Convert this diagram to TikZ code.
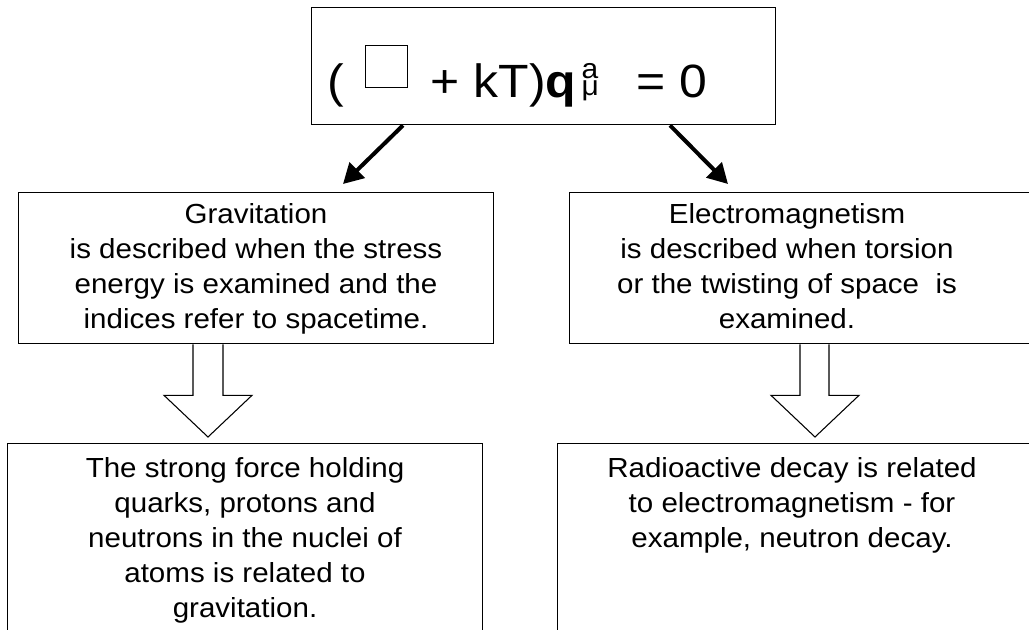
\documentclass[tikz,border=0pt]{standalone}
\usepackage{fontspec}
\setmainfont[FakeStretch=1.07]{Liberation Sans}
\usetikzlibrary{arrows.meta,calc}
\newcommand\bodyfont{\fontsize{20.7pt}{26.25pt}\selectfont}
\newcommand\eqfont{\fontsize{35pt}{40pt}\selectfont}
\newcommand\scrfont{\fontsize{21pt}{24pt}\selectfont}
\newcommand\firstline{\rule{0pt}{20pt}}
\newcommand\dalembert{\raisebox{7.5pt}{\fboxsep0pt\fboxrule0.75pt\fbox{\rule{0pt}{30.75pt}\hspace{30.75pt}}}}
\begin{document}
\begin{tikzpicture}[x=0.75pt,y=-0.75pt,
  box/.style={draw, line width=1pt, inner sep=0pt, anchor=north west},
  txt/.style={align=center, inner sep=0pt, anchor=north, font=\bodyfont},
  bigarrow/.style={line width=3pt, -{Triangle[length=15pt,width=16pt]}},
  hollow/.style={draw, line width=0.8pt, fill=white, line join=miter}]
\useasboundingbox (0,0) rectangle (1029,629);
\clip (0,0) rectangle (1029,629);
% boxes
\node[box, minimum width=348pt, minimum height=87.75pt] (top) at (311,7) {};
\node[box, minimum width=356.25pt, minimum height=113.25pt] (grav) at (18,192) {};
\node[box, minimum width=405pt, minimum height=113.25pt] (em) at (569,192) {};
\node[box, minimum width=356.25pt, minimum height=150pt] (strong) at (7,443) {};
\node[box, minimum width=405pt, minimum height=150pt] (decay) at (557,443) {};
% equation
\node[anchor=base west, inner sep=0pt] (eq) at (327,97) {\eqfont\rlap{(}\hspace*{28.5pt}\rlap{\dalembert}\hspace*{49.1pt}\rlap{+ kT)\textbf{q}}\hspace*{113.25pt}\rlap{\raisebox{13.8pt}{\scrfont a}}\rlap{\raisebox{1.5pt}{\scrfont μ}}\hspace*{41pt}= 0};
% texts
\node[txt] (gtext) at (256,196.3) {\firstline Gravitation\\is described when the stress\\energy is examined and the\\indices refer to spacetime.};
\node[txt] (etext) at (787,196.3) {\firstline Electromagnetism\\is described when torsion\\or the twisting of space~ is\\examined.};
\node[txt] (stext) at (245,450.3) {\firstline The strong force holding\\quarks, protons and\\neutrons in the nuclei of\\atoms is related to\\gravitation.};
\node[txt] (dtext) at (792,450.3) {\firstline Radioactive decay is related\\to electromagnetism - for\\example, neutron decay.};
% arrows
\draw[bigarrow] ($(top.south west)+(92,0)$) -- ($(grav.north west)+(325,-8)$);
\draw[bigarrow] ($(top.south west)+(359,0)$) -- ($(em.north west)+(159,-8)$);
% hollow arrows
\draw[hollow] ($(grav.south west)+(175,0)$) -- ++(0,51) -- ++(-29,0) -- ($(strong.north west)+(201,-6)$) -- ($(grav.south west)+(234,51)$) -- ++(-29,0) -- ($(grav.south west)+(205,0)$);
\draw[hollow] ($(em.south west)+(231,0)$) -- ++(0,51) -- ++(-29,0) -- ($(decay.north west)+(258,-6)$) -- ($(em.south west)+(290,51)$) -- ++(-30,0) -- ($(em.south west)+(260,0)$);
\end{tikzpicture}
\end{document}
